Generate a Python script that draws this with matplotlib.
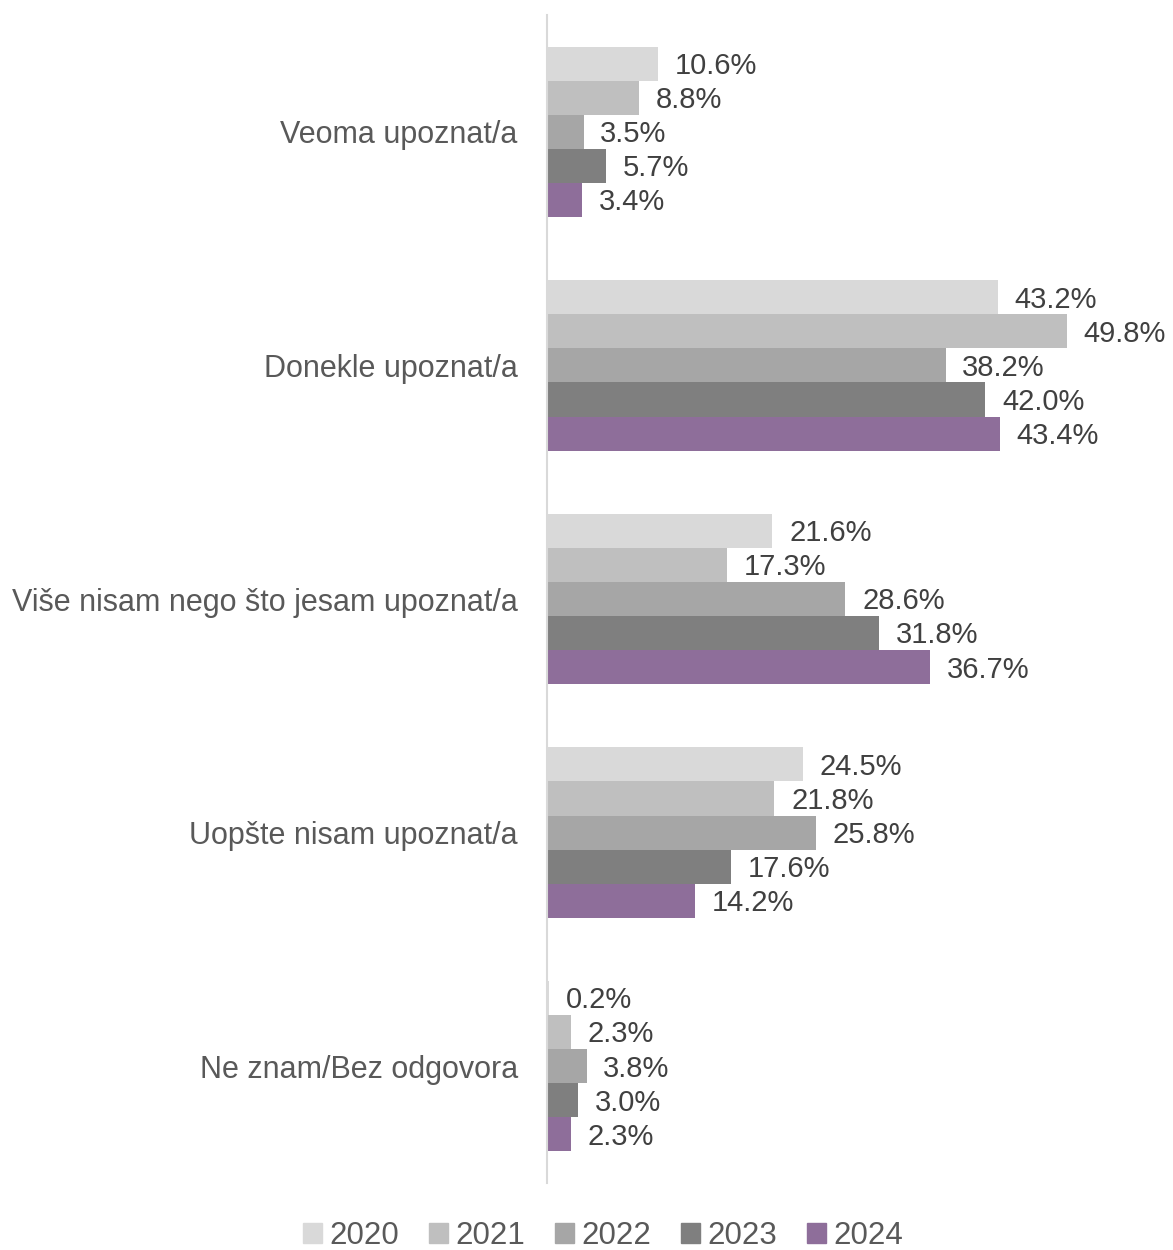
import numpy as np
import matplotlib.pyplot as plt
from matplotlib.patches import Patch

categories = ["Veoma upoznat/a", "Donekle upoznat/a", "Više nisam nego što jesam upoznat/a",
              "Uopšte nisam upoznat/a", "Ne znam/Bez odgovora"]
years = ["2020", "2021", "2022", "2023", "2024"]
values = {
    "2020": [10.6, 43.2, 21.6, 24.5, 0.2],
    "2021": [8.8, 49.8, 17.3, 21.8, 2.3],
    "2022": [3.5, 38.2, 28.6, 25.8, 3.8],
    "2023": [5.7, 42.0, 31.8, 17.6, 3.0],
    "2024": [3.4, 43.4, 36.7, 14.2, 2.3],
}
colors = ["#D9D9D9", "#BFBFBF", "#A6A6A6", "#7F7F7F", "#8E6E9A"]

plt.rcParams['font.family'] = ['Liberation Sans', 'DejaVu Sans']

fig = plt.figure(figsize=(11.73, 12.5), dpi=100)
ax = fig.add_axes([547 / 1173, 1 - 1183 / 1250, 1 - 547 / 1173, (1183 - 15) / 1250])

bh = 0.146
y = np.arange(len(categories))
for i, yr in enumerate(years):
    pos = y + (i - 2) * bh
    ax.barh(pos, values[yr], height=bh, color=colors[i])
    for p, v in zip(pos, values[yr]):
        ax.text(v + 1.6, p + 0.01, f"{v:.1f}%", va="center", ha="left", fontsize=21, color="#404040")

ax.set_xlim(0, 60)
ax.set_ylim(len(categories) - 0.5, -0.5)
ax.set_yticks(y)
ax.set_yticklabels(categories, fontsize=22, color="#595959")
ax.tick_params(axis="y", length=0, pad=21)
ax.set_xticks([])
for s in ["top", "right", "bottom"]:
    ax.spines[s].set_visible(False)
ax.spines["left"].set_color("#D9D9D9")
ax.spines["left"].set_linewidth(1.5)

handles = [Patch(color=c, label=yr) for c, yr in zip(colors, years)]
fig.legend(handles=handles, loc="center", bbox_to_anchor=(603 / 1173, 1 - 1236 / 1250), ncol=5,
           frameon=False, fontsize=22.5, labelcolor="#595959", handlelength=0.6, handleheight=0.6,
           handletextpad=0.25, columnspacing=0.95, borderpad=0.05)

fig.savefig("out.png", dpi=100)
